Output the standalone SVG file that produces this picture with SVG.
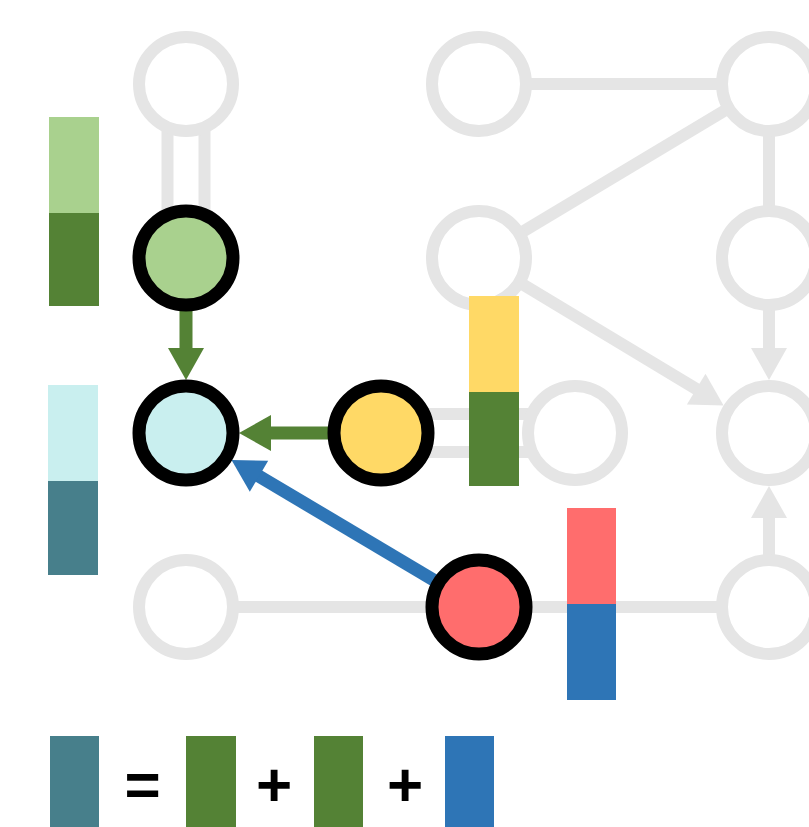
<svg xmlns="http://www.w3.org/2000/svg" width="809" height="827" viewBox="0 0 809 827">
<style>
.gl{stroke:#e5e5e5;stroke-width:12;fill:none}
.gh{fill:#e5e5e5}
.gn{fill:#ffffff;stroke:#e5e5e5;stroke-width:12}
.cn{stroke:#000000;stroke-width:13}
.op{font-family:"Liberation Sans",Arial,sans-serif;font-weight:bold;font-size:62px;text-anchor:middle;fill:#000000}
</style>
<rect width="809" height="827" fill="#ffffff"/>
<g id="connectors">
<line class="gl" x1="167.5" y1="84" x2="167.5" y2="258"/>
<line class="gl" x1="204.5" y1="84" x2="204.5" y2="258"/>
<line class="gl" x1="479" y1="84" x2="769" y2="84"/>
<line class="gl" x1="769" y1="84" x2="479" y2="258"/>
<line class="gl" x1="769" y1="84" x2="769" y2="258"/>
<line class="gl" x1="479" y1="258" x2="698" y2="390"/>
<polygon class="gh" points="723.6,405.6 686.9,404.5 705.5,373.7"/>
<line class="gl" x1="769" y1="258" x2="769" y2="350"/>
<polygon class="gh" points="769,380 751,348 787,348"/>
<line class="gl" x1="381" y1="414" x2="575" y2="414"/>
<line class="gl" x1="381" y1="452" x2="575" y2="452"/>
<line class="gl" x1="186" y1="607" x2="479" y2="607"/>
<line class="gl" x1="479" y1="607" x2="769" y2="607"/>
<line class="gl" x1="769" y1="607" x2="769" y2="516"/>
<polygon class="gh" points="769,486 751,518 787,518"/>
<line stroke="#548235" stroke-width="13" x1="186" y1="258" x2="186" y2="350"/>
<polygon fill="#548235" points="186,380 168,348 204,348"/>
<line stroke="#548235" stroke-width="13" x1="381" y1="433" x2="269" y2="433"/>
<polygon fill="#548235" points="239,433 271,415 271,451"/>
<line stroke="#2e75b6" stroke-width="13" x1="479" y1="607" x2="257" y2="475"/>
<polygon fill="#2e75b6" points="231.5,460 268.2,460.8 249.8,491.8"/>
</g>
<g id="gray-nodes">
<circle class="gn" cx="186" cy="84" r="47"/>
<circle class="gn" cx="479" cy="84" r="47"/>
<circle class="gn" cx="769" cy="84" r="47"/>
<circle class="gn" cx="479" cy="258" r="47"/>
<circle class="gn" cx="769" cy="258" r="47"/>
<circle class="gn" cx="575" cy="433" r="47"/>
<circle class="gn" cx="769" cy="433" r="47"/>
<circle class="gn" cx="186" cy="607" r="47"/>
<circle class="gn" cx="769" cy="607" r="47"/>
</g>
<g id="node-green"><circle class="cn" cx="186" cy="258" r="47" fill="#a9d18e"/></g>
<g id="node-cyan"><circle class="cn" cx="186" cy="433" r="47" fill="#c9efef"/></g>
<g id="node-yellow"><circle class="cn" cx="381" cy="433" r="47" fill="#ffd966"/></g>
<g id="node-red"><circle class="cn" cx="479" cy="607" r="47" fill="#ff6d6d"/></g>
<g id="bars">
<rect x="49" y="117" width="50" height="96" fill="#a9d18e"/>
<rect x="49" y="213" width="50" height="93" fill="#548235"/>
<rect x="48" y="385" width="50" height="96" fill="#c9efef"/>
<rect x="48" y="481" width="50" height="94" fill="#477f8b"/>
<rect x="469" y="296" width="50" height="96" fill="#ffd966"/>
<rect x="469" y="392" width="50" height="94" fill="#548235"/>
<rect x="567" y="508" width="49" height="96" fill="#ff6d6d"/>
<rect x="567" y="604" width="49" height="96" fill="#2e75b6"/>
</g>
<g id="equation">
<rect x="50" y="736" width="49" height="91" fill="#477f8b"/>
<text class="op" x="142.5" y="806">=</text>
<rect x="186" y="736" width="50" height="91" fill="#548235"/>
<text class="op" x="274" y="806">+</text>
<rect x="314" y="736" width="49" height="91" fill="#548235"/>
<text class="op" x="405" y="806">+</text>
<rect x="445" y="736" width="49" height="91" fill="#2e75b6"/>
</g>
</svg>
